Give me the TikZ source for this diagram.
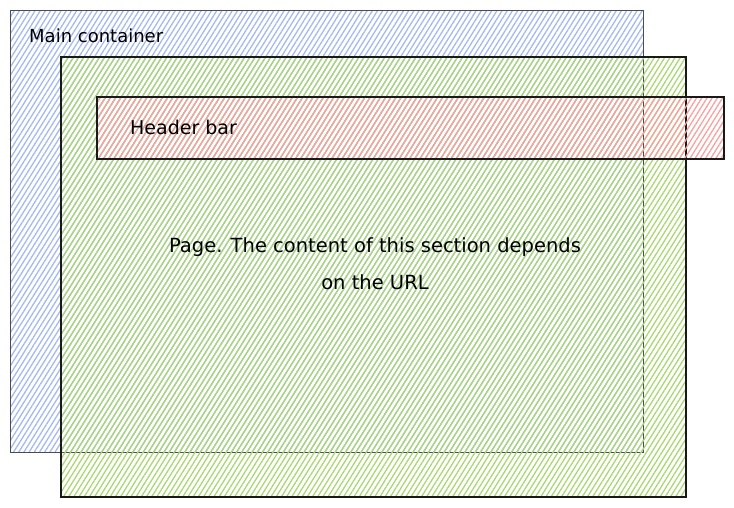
\documentclass[tikz,border=0pt]{standalone}
\usepackage{fontspec}
\setmainfont{DejaVu Sans}
\usepackage{tikz}
\usetikzlibrary{patterns.meta,positioning}

\definecolor{hatchblue}{RGB}{165,185,240}
\definecolor{hatchgreen}{RGB}{170,215,115}
\definecolor{hatchred}{RGB}{250,160,160}

\begin{document}
\begin{tikzpicture}[
    x=1pt, y=-1pt,
    box/.style={rectangle, draw=black!90, line width=1.6pt, inner sep=0pt},
    hatch/.style={pattern={Lines[angle=58, distance=4.4pt, line width=1.3pt]}, pattern color=#1},
    label/.style={font=\fontsize{19}{22}\selectfont, text=black, inner sep=0pt}
]
\useasboundingbox (0,0) rectangle (734,507);

% Main container
\node[box, draw=black!70, hatch=hatchblue, minimum width=633pt, minimum height=442pt, anchor=north west] (main) at (10,10) {};
\node[label, anchor=west, font=\fontsize{18}{22}\selectfont] (maintxt) at (29,36) {Main container};

% Page
\node[box, hatch=hatchgreen, minimum width=625pt, minimum height=440pt, anchor=north west] (page) at (60,56) {};

% Header bar
\node[box, hatch=hatchred, minimum width=627pt, minimum height=62pt, anchor=north west] (header) at (96,96) {};
\node[label, anchor=west] (headertxt) at (130,127) {Header bar};

% Page text
\node[label, align=center, font=\fontsize{19.5}{37}\selectfont] (pagetxt) at (375,264) {Page. The content of this section depends\\on the URL};

\end{tikzpicture}
\end{document}
